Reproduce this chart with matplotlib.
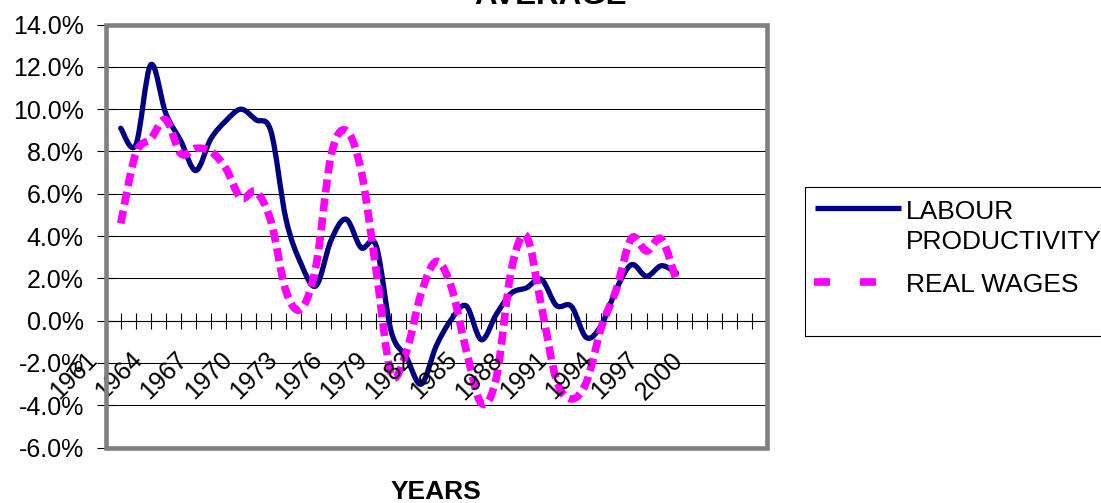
import numpy as np
import matplotlib
matplotlib.use("Agg")
import matplotlib.pyplot as plt
from matplotlib.path import Path
from matplotlib.patches import PathPatch, Rectangle
from matplotlib.lines import Line2D
from matplotlib.ticker import FuncFormatter, NullFormatter

# Category axis: one slot per year, labelled every third year
years = list(range(1961, 2006))
label_years = list(range(1961, 2001, 3))

# Annual growth rates (%)
data_years = list(range(1962, 2000))
productivity = [9.1, 8.3, 12.1, 9.8, 8.5, 7.1, 8.6, 9.45, 10.0, 9.5,
                8.95, 4.8, 2.7, 1.65, 3.8, 4.8, 3.45, 3.55, -0.5, -1.7,
                -3.0, -1.2, 0.05, 0.7, -0.9, 0.3, 1.3, 1.55, 1.95, 0.72,
                0.68, -0.8, -0.2, 1.5, 2.65, 2.1, 2.6, 2.25]
real_wages = [4.6, 7.9, 8.6, 9.5, 7.9, 8.15, 8.0, 7.2, 5.8, 6.1,
              4.7, 1.4, 0.55, 2.6, 7.8, 9.0, 7.1, 2.4, -2.5, -1.5,
              1.3, 2.8, 1.6, -1.4, -3.9, -2.7, 2.4, 4.0, 0.7, -2.8,
              -3.7, -2.9, -0.3, 1.5, 3.9, 3.3, 3.85, 1.85]
series_names = ["LABOUR\nPRODUCTIVITY", "REAL WAGES"]
y_ticks = list(range(-6, 15, 2))

plt.rcParams['font.family'] = ['Liberation Sans', 'DejaVu Sans']

W, H = 1101, 503
fig = plt.figure(figsize=(W / 100, H / 100), dpi=100)
fig.patch.set_facecolor('white')


def fx(px):
    return px / W


def fy(py):
    return 1 - py / H


ax = fig.add_axes([fx(105.7), fy(447.6), fx(766.7) - fx(105.7), fy(24.6) - fy(447.6)])


def smooth_path(xs, ys):
    """Bezier path through the points (Catmull-Rom style smoothing)."""
    pts = np.column_stack([xs, ys]).astype(float)
    n = len(pts)
    verts = [pts[0]]
    codes = [Path.MOVETO]
    for i in range(n - 1):
        p0 = pts[i - 1] if i > 0 else pts[i]
        p1, p2 = pts[i], pts[i + 1]
        p3 = pts[i + 2] if i + 2 < n else pts[i + 1]
        verts += [p1 + (p2 - p0) / 6, p2 - (p3 - p1) / 6, p2]
        codes += [Path.CURVE4] * 3
    return Path(verts, codes)


xpos = [years.index(y) for y in data_years]

NAVY = '#000080'
MAGENTA = '#FF00FF'
prod_lw = 3.8
wage_lw = 5.5

prod_patch = PathPatch(smooth_path(xpos, productivity), fill=False,
                       edgecolor=NAVY, lw=prod_lw, joinstyle='round',
                       capstyle='round', zorder=3)
wage_patch = PathPatch(smooth_path(xpos, real_wages), fill=False,
                       edgecolor=MAGENTA, lw=wage_lw, capstyle='butt',
                       linestyle=(0, (1.7, 0.8)), zorder=3)
ax.add_patch(prod_patch)
ax.add_patch(wage_patch)

ax.set_xlim(0, len(years) - 1)
ax.set_ylim(y_ticks[0], y_ticks[-1])

# Y axis
ax.set_yticks(y_ticks)
ax.yaxis.set_major_formatter(FuncFormatter(lambda v, _: f"{v:.1f}%"))
ax.tick_params(axis='y', direction='inout', length=13, width=0.8,
               color='black', pad=9.3, labelsize=18, labelcolor='black')
ax.yaxis.grid(True, color='black', lw=0.75)

# Category axis crossing at zero
ax.set_xticks(range(len(years)))
ax.xaxis.set_major_formatter(NullFormatter())
ax.tick_params(axis='x', direction='inout', length=11.5, width=0.8, color='black')
ax.spines['bottom'].set_position(('data', 0))
ax.spines['bottom'].set_color('black')
ax.spines['bottom'].set_linewidth(0.8)
for side in ('left', 'right', 'top'):
    ax.spines[side].set_visible(False)

for y in label_years:
    ax.annotate(str(y), xy=(years.index(y), 0), xycoords='data',
                xytext=(-4, -27), textcoords='offset pixels',
                rotation=45, ha='right', va='top', fontsize=18,
                annotation_clip=False)

# Plot area border
ax.add_patch(Rectangle((0, 0), 1, 1, transform=ax.transAxes, fill=False,
                       edgecolor='#808080', lw=3.3, zorder=4, clip_on=False))

# Titles
fig.text(fx(550.5), fy(4), "AVERAGE", ha='center', va='baseline',
         fontsize=22.5, fontweight='bold')
fig.text(fx(436.2), fy(499), "YEARS", ha='center', va='baseline',
         fontsize=19, fontweight='bold')

# Legend
fig.add_artist(Rectangle((fx(805), fy(336)), fx(1130) - fx(805), fy(187) - fy(336),
                         transform=fig.transFigure, fill=False,
                         edgecolor='black', lw=0.8))
fig.add_artist(Line2D([fx(815), fx(901)], [fy(208.3)] * 2, transform=fig.transFigure,
                      color=NAVY, lw=prod_lw, solid_capstyle='butt'))
dash_px = wage_lw * 100 / 72
fig.add_artist(Line2D([fx(814), fx(876)], [fy(282.3)] * 2, transform=fig.transFigure,
                      color=MAGENTA, lw=wage_lw, dash_capstyle='butt',
                      dashes=(16 / dash_px, 30 / dash_px)))
for line, base in zip(series_names[0].split("\n"), (219.3, 249.3)):
    fig.text(fx(906), fy(base), line, ha='left', va='baseline', fontsize=19)
fig.text(fx(906), fy(292.3), series_names[1], ha='left', va='baseline', fontsize=19)

fig.savefig("out.png", dpi=100, facecolor='white')
